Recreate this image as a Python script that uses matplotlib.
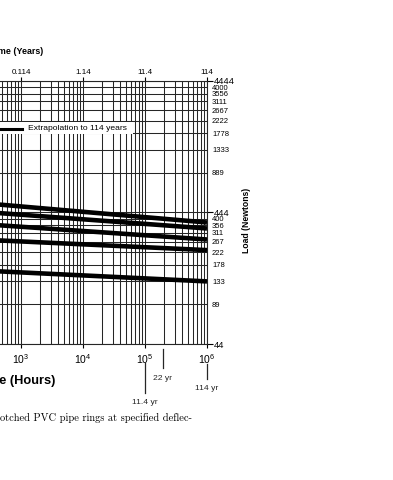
import matplotlib
matplotlib.use('Agg')
import matplotlib.pyplot as plt
from matplotlib.ticker import (FixedLocator, FixedFormatter, NullLocator,
                               LogLocator, NullFormatter)
from matplotlib.lines import Line2D
from matplotlib.patches import Rectangle
from matplotlib.transforms import blended_transform_factory

plt.rcParams['font.family'] = ['Liberation Sans', 'DejaVu Sans']

W, H = 393, 480

# load (N) of each ring at the start and end of the plotted span
hours = [300, 1e6]
curve_1 = [519, 373]
curve_2 = [446, 336]
curve_3 = [360, 277]
curve_4 = [275, 230]
curve_5 = [160, 133]
curves = [curve_1, curve_2, curve_3, curve_4, curve_5]

# load grid is in pounds, labelled in newtons on the right
lb_major = [10, 100, 1000]
newton_major_labels = ['44', '444', '4444']
lb_minor = [20, 30, 40, 50, 60, 70, 80, 90,
            200, 300, 400, 500, 600, 700, 800, 900]
newton_minor_labels = ['89', '133', '178', '222', '267', '311', '356', '400',
                       '889', '1333', '1778', '2222', '2667', '3111', '3556', '4000']
LB_TO_N = 4.4444

hour_ticks = [1e3, 1e4, 1e5, 1e6]
year_labels = ['0.114', '1.14', '11.4', '114']

# marked service lives below the time axis
mark_years = [22, 11.4, 114]
mark_labels = ['22 yr', '11.4 yr', '114 yr']
HOURS_PER_YEAR = 8766


def px(x, y):
    return x / W, 1 - y / H


fig = plt.figure(figsize=(W / 100, H / 100), dpi=100)
left, top = px(-165, 81)
right, bottom = px(207, 344)
ax = fig.add_axes([left, bottom, right - left, top - bottom])

for c in curves:
    ax.plot(hours, c, color='k', lw=3.3, solid_capstyle='butt', zorder=3)

ax.set_xscale('log')
ax.set_yscale('log')
ax.set_xlim(1, 1e6)
ax.set_ylim(10 * LB_TO_N, 1000 * LB_TO_N)

# x grid: every decade and its 2..9 subdivisions, labels only where visible
ax.xaxis.set_major_locator(FixedLocator(hour_ticks))
ax.xaxis.set_minor_locator(LogLocator(base=10, subs=range(1, 10), numticks=20))
ax.xaxis.set_minor_formatter(NullFormatter())

ax.yaxis.tick_right()
ax.yaxis.set_major_locator(FixedLocator([v * LB_TO_N for v in lb_major]))
ax.yaxis.set_major_formatter(FixedFormatter(newton_major_labels))
ax.yaxis.set_minor_locator(FixedLocator([v * LB_TO_N for v in lb_minor]))
ax.yaxis.set_minor_formatter(FixedFormatter(newton_minor_labels))
ax.tick_params(axis='y', which='major', length=4, width=0.8, labelsize=6.8, pad=1)
ax.tick_params(axis='y', which='minor', length=0, labelsize=5.5, pad=3.6)

ax.tick_params(axis='x', which='major', length=3, width=0.8, labelsize=7.5, pad=3)
ax.tick_params(axis='x', which='minor', length=0)

ax.grid(True, which='both', color='0.15', lw=0.75)
for s in ax.spines.values():
    s.set_color('0.15')
    s.set_linewidth(0.8)

secax = ax.secondary_xaxis('top')
secax.set_xticks(hour_ticks, labels=year_labels)
secax.xaxis.set_minor_locator(NullLocator())
secax.tick_params(length=3, width=0.8, labelsize=5.8, pad=0.5)
secax.spines['top'].set_visible(False)

# extrapolation key
x0, y0 = px(-10, 122)
x1, y1 = px(133, 134)
fig.add_artist(Rectangle((x0, y1), x1 - x0, y0 - y1, facecolor='white',
                         edgecolor='none', zorder=2))
lx0, ly = px(-10, 129)
lx1, _ = px(22, 129)
fig.add_artist(Line2D([lx0, lx1], [ly, ly], color='k', lw=2.2, zorder=3))
tx, ty = px(28, 129)
fig.text(tx, ty, 'Extrapolation to 114 years', size=6.1, va='center', zorder=3)

# service-life marks
trans = blended_transform_factory(ax.transData, fig.transFigure)
mark_spans = [(349, 368, 379), (363, 393, 402), (364, 379, 388)]
for yr, lab, (ya, yb, yt) in zip(mark_years, mark_labels, mark_spans):
    h = yr * HOURS_PER_YEAR
    ax.plot([h, h], [1 - ya / H, 1 - yb / H], transform=trans, color='0.15',
            lw=0.9, clip_on=False)
    ax.text(h, 1 - yt / H, lab, transform=trans, size=6.1, color='0.15',
            ha='center', va='center')

tx, ty = px(43, 51)
fig.text(tx, ty, 'Time (Years)', ha='right', va='center', size=6.4, fontweight='bold')
tx, ty = px(55, 381)
fig.text(tx, ty, 'Time (Hours)', ha='right', va='center', size=9.2, fontweight='bold')
tx, ty = px(246, 220)
fig.text(tx, ty, 'Load (Newtons)', ha='center', va='center', size=6.2,
         fontweight='bold', rotation=90)
tx, ty = px(0.5, 418)
fig.text(tx, ty, 'otched PVC pipe rings at specified deflec-', family='cmr10',
         size=7.5, ha='left', va='center')

fig.savefig('out.png', dpi=100)
